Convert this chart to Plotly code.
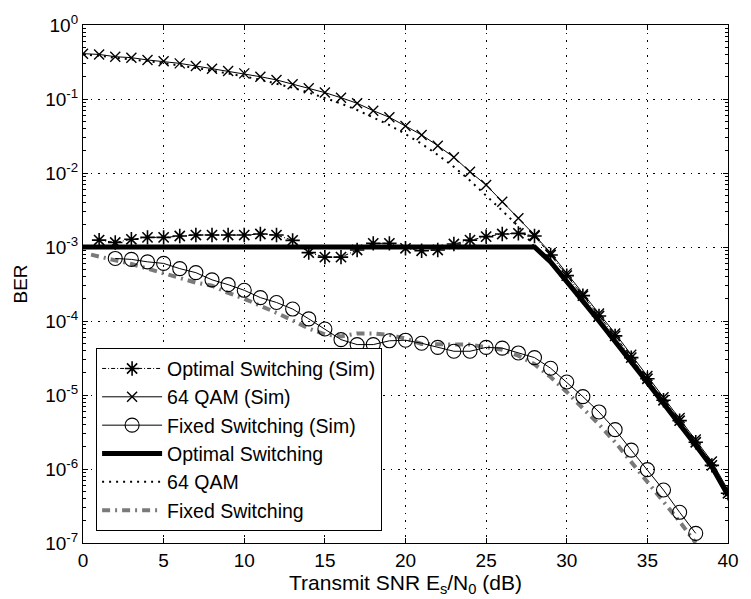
import plotly.graph_objects as go

# Transmit SNR grid (dB)
snr = list(range(0, 41))
snr_opt_sim = list(range(1, 41))
snr_fixed_sim = list(range(2, 39))
snr_fixed = [0.5] + list(range(1, 39))

# Simulated BER
ber_opt_sim = [1.24e-3, 1.15e-3, 1.27e-3, 1.35e-3, 1.35e-3, 1.41e-3, 1.45e-3, 1.45e-3, 1.45e-3, 1.45e-3,
               1.50e-3, 1.45e-3, 1.23e-3, 8.4e-4, 7.3e-4, 7.3e-4, 9.1e-4, 1.12e-3, 1.12e-3, 9.6e-4,
               8.9e-4, 9.1e-4, 1.10e-3, 1.24e-3, 1.38e-3, 1.50e-3, 1.53e-3, 1.41e-3, 7.8e-4, 4.1e-4,
               2.2e-4, 1.17e-4, 6.3e-5, 3.2e-5, 1.66e-5, 8.5e-6, 4.5e-6, 2.3e-6, 1.12e-6, 4.7e-7]

ber_qam_sim = [0.41, 0.40, 0.373, 0.362, 0.337, 0.323, 0.303, 0.279, 0.257, 0.239,
               0.222, 0.200, 0.181, 0.158, 0.140, 0.122, 0.104, 0.0875, 0.0695, 0.0566,
               0.0431, 0.0327, 0.0234, 0.0163, 0.0104, 0.00689, 0.0041, 0.00244, 0.00145, 8.3e-4,
               4.4e-4, 2.3e-4, 1.26e-4, 6.8e-5, 3.5e-5, 1.8e-5, 9.3e-6, 4.9e-6, 2.5e-6, 1.26e-6,
               5.2e-7]

ber_fixed_sim = [7.0e-4, 6.8e-4, 6.3e-4, 6.0e-4, 5.1e-4, 4.5e-4, 3.6e-4, 3.1e-4, 2.6e-4, 2.07e-4,
                 1.78e-4, 1.45e-4, 1.07e-4, 7.8e-5, 5.6e-5, 4.8e-5, 4.8e-5, 5.4e-5, 5.5e-5, 5.0e-5,
                 4.4e-5, 3.9e-5, 3.9e-5, 4.4e-5, 4.3e-5, 3.7e-5, 3.2e-5, 2.3e-5, 1.5e-5, 9.5e-6,
                 5.9e-6, 3.4e-6, 1.8e-6, 9.8e-7, 5.2e-7, 2.6e-7, 1.35e-7]

# Analytical BER
ber_opt = [1e-3] * 29 + [6.3e-4, 3.5e-4, 1.86e-4, 1.0e-4, 5.4e-5, 2.8e-5, 1.48e-5, 7.8e-6,
                         4.1e-6, 2.1e-6, 1.07e-6, 4.4e-7]

ber_qam = [0.40, 0.385, 0.36, 0.345, 0.325, 0.305, 0.285, 0.263, 0.242, 0.222,
           0.202, 0.182, 0.162, 0.142, 0.122, 0.104, 0.087, 0.071, 0.056, 0.0445,
           0.0335, 0.0248, 0.0176, 0.0121, 0.0079, 0.0050, 0.0031, 0.0019, 1.0e-3, 6.3e-4,
           3.5e-4, 1.86e-4, 1.0e-4, 5.4e-5, 2.8e-5, 1.48e-5, 7.8e-6, 4.1e-6, 2.1e-6, 1.07e-6,
           4.4e-7]

ber_fixed = [7.9e-4, 7.4e-4, 6.6e-4, 5.9e-4, 5.1e-4, 4.5e-4, 3.9e-4, 3.3e-4, 3.0e-4, 2.4e-4,
             2.0e-4, 1.62e-4, 1.29e-4, 1.02e-4, 7.9e-5, 6.6e-5, 6.2e-5, 6.8e-5, 6.8e-5, 6.5e-5,
             5.8e-5, 4.9e-5, 4.8e-5, 4.8e-5, 4.8e-5, 4.5e-5, 4.1e-5, 3.4e-5, 2.6e-5, 1.75e-5,
             1.1e-5, 6.6e-6, 4.0e-6, 2.3e-6, 1.25e-6, 6.6e-7, 3.6e-7, 1.95e-7, 1.0e-7]

y_major = [1e-7, 1e-6, 1e-5, 1e-4, 1e-3, 1e-2, 1e-1, 1e0]
y_labels = ["10<sup>-7</sup>", "10<sup>-6</sup>", "10<sup>-5</sup>", "10<sup>-4</sup>",
            "10<sup>-3</sup>", "10<sup>-2</sup>", "10<sup>-1</sup>", "10<sup>0</sup>"]
x_major = [0, 5, 10, 15, 20, 25, 30, 35, 40]
y_minor = [m * d for d in y_major[:-1] for m in range(2, 10)]

FONT = "Liberation Sans, Arial, Helvetica, sans-serif"

fig = go.Figure()

# Analytical curves (drawn beneath the simulated markers)
fig.add_trace(go.Scatter(
    x=snr, y=ber_opt, mode="lines", name="Optimal Switching", legendrank=4,
    line=dict(color="black", width=5)))
fig.add_trace(go.Scatter(
    x=snr, y=ber_qam, mode="lines", name="64 QAM", legendrank=5,
    line=dict(color="black", width=2, dash="2px,5px")))
fig.add_trace(go.Scatter(
    x=snr_fixed, y=ber_fixed, mode="lines", name="Fixed Switching", legendrank=6,
    line=dict(color="#7a7a7a", width=4, dash="8px,5px,2px,5px")))

# Simulated curves
fig.add_trace(go.Scatter(
    x=snr_opt_sim, y=ber_opt_sim, mode="lines+markers", name="Optimal Switching (Sim)",
    legendrank=1,
    line=dict(color="black", width=1, dash="4px,2px,1px,2px"),
    marker=dict(symbol="asterisk-open", size=12, color="black", line=dict(color="black", width=1.6))))
fig.add_trace(go.Scatter(
    x=snr, y=ber_qam_sim, mode="lines+markers", name="64 QAM (Sim)", legendrank=2,
    line=dict(color="black", width=1),
    marker=dict(symbol="x-thin-open", size=10, color="black", line=dict(color="black", width=1.4))))
fig.add_trace(go.Scatter(
    x=snr_fixed_sim, y=ber_fixed_sim, mode="lines+markers", name="Fixed Switching (Sim)",
    legendrank=3,
    line=dict(color="black", width=1),
    marker=dict(symbol="circle-open", size=14, color="black", line=dict(color="black", width=1.1))))

axis_common = dict(
    showline=True, linecolor="black", linewidth=1.2, mirror="ticks",
    ticks="inside", tickcolor="black", ticklen=5,
    showgrid=True, gridcolor="black", gridwidth=1, griddash="1.5px,6px",
    zeroline=False, tickfont=dict(family=FONT, size=19, color="black"),
)

fig.update_xaxes(
    range=[0, 40], tickmode="array", tickvals=x_major,
    title=dict(text="Transmit SNR E<sub>s</sub>/N<sub>0</sub> (dB)",
               font=dict(family=FONT, size=21, color="black"), standoff=0),
    **axis_common)
fig.update_yaxes(
    type="log", range=[-7, 0], tickmode="array", tickvals=y_major, ticktext=y_labels,
    minor=dict(tickmode="array", tickvals=y_minor, ticks="inside", ticklen=3,
               tickcolor="black", showgrid=False),
    title=dict(text="BER", font=dict(family=FONT, size=19, color="black"), standoff=12),
    **axis_common)

fig.update_layout(
    width=751, height=599,
    margin=dict(l=83, r=12, t=25, b=56),
    paper_bgcolor="white", plot_bgcolor="white",
    font=dict(family=FONT, color="black"),
    legend=dict(
        x=0.02, y=0.023, xanchor="left", yanchor="bottom",
        bgcolor="white", bordercolor="black", borderwidth=1.2,
        font=dict(family=FONT, size=19.5, color="black"),
        itemwidth=60, traceorder="normal",
    ),
)

fig.write_html("out.html")
